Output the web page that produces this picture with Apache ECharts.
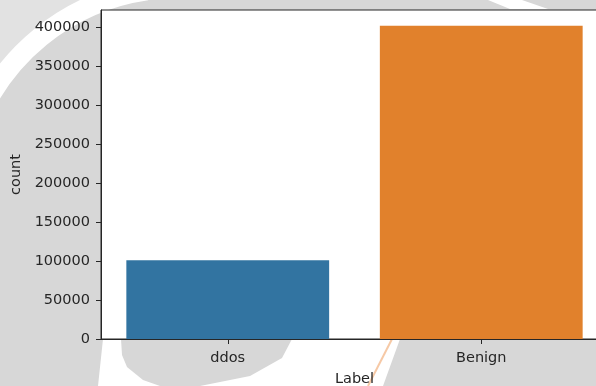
<!DOCTYPE html>
<html>
<head>
<meta charset="utf-8">
<script src="https://cdn.jsdelivr.net/npm/echarts@6/dist/echarts.min.js"></script>
<style>
html,body{margin:0;padding:0;background:#d7d7d7;}
#chart{width:596px;height:386px;}
</style>
</head>
<body>
<div id="chart"></div>
<script>
const categories = ['ddos', 'Benign'];
const counts = [101000, 401500];
const barColors = ['#3274a1', '#e1812c'];
const yTicks = [0, 50000, 100000, 150000, 200000, 250000, 300000, 350000, 400000];

const chart = echarts.init(document.getElementById('chart'), null, {renderer: 'canvas'});
const font = 'DejaVu Sans';
const ink = '#262626';

chart.setOption({
  animation: false,
  backgroundColor: '#d7d7d7',
  graphic: [
    {type: 'polygon', z: -5, silent: true,
      shape: {points: [[0,0],[82,0],[36,36],[0,64]]},
      style: {fill: '#e2e2e2'}},
    {type: 'arc', z: -4, silent: true,
      shape: {cx: 177.6, cy: 205.1, r: 217, startAngle: 3.49, endAngle: 4.57},
      style: {stroke: '#ffffff', lineWidth: 20, fill: null}},
    {type: 'polygon', z: -4, silent: true,
      shape: {points: [[103,339],[121,339],[122,355],[127,367],[143,380],[160,386],[98,386]]},
      style: {fill: '#ffffff'}},
    {type: 'polygon', z: -4, silent: true,
      shape: {points: [[292,339],[400,339],[383,386],[200,386],[250,376],[282,358]]},
      style: {fill: '#ffffff'}},
    {type: 'polyline', z: -3, silent: true,
      shape: {points: [[392,339],[368,386]]},
      style: {stroke: '#f6c9a6', lineWidth: 2}},
    {type: 'polygon', z: -4, silent: true,
      shape: {points: [[488,0],[522,0],[548,9],[510,9]]},
      style: {fill: '#ffffff'}}
  ],
  grid: {
    left: 101, top: 10, width: 507, height: 329,
    show: true, backgroundColor: '#ffffff', borderColor: ink, borderWidth: 1,
    containLabel: false,
    outerBoundsMode: 'none'
  },
  xAxis: {
    type: 'category',
    data: categories,
    name: 'Label',
    nameLocation: 'middle',
    nameGap: 33,
    nameTextStyle: {fontFamily: font, fontSize: 14.5, color: ink},
    axisLine: {show: true, lineStyle: {color: ink, width: 1}},
    axisTick: {show: true, alignWithLabel: true, length: 5, lineStyle: {color: ink}},
    axisLabel: {fontFamily: font, fontSize: 14.5, color: ink, margin: 12},
    splitLine: {show: false}
  },
  yAxis: {
    type: 'value',
    min: 0,
    max: 421600,
    interval: 50000,
    name: 'count',
    nameLocation: 'middle',
    nameRotate: 90,
    nameGap: 74,
    nameTextStyle: {fontFamily: font, fontSize: 14.5, color: ink},
    axisLine: {show: true, lineStyle: {color: ink, width: 1}},
    axisTick: {show: true, length: 5, lineStyle: {color: ink}},
    axisLabel: {
      fontFamily: font, fontSize: 14.5, color: ink, margin: 11,
      showMaxLabel: false,
      formatter: function (v) { return yTicks.indexOf(v) >= 0 ? String(v) : ''; }
    },
    splitLine: {show: false}
  },
  series: [{
    type: 'bar',
    barWidth: '80%',
    data: counts.map(function (v, i) { return {value: v, itemStyle: {color: barColors[i]}}; })
  }]
});
</script>
</body>
</html>
